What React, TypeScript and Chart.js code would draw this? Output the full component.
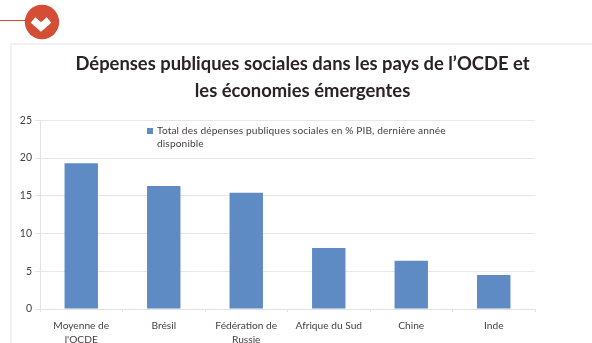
import { useEffect, useRef } from "react";
import { Chart, registerables } from "chart.js";

Chart.register(...registerables);

const categories = [
  ["Moyenne de", "l'OCDE"],
  ["Brésil"],
  ["Fédération de", "Russie"],
  ["Afrique du Sud"],
  ["Chine"],
  ["Inde"],
];
const seriesValues = [19.3, 16.3, 15.4, 8.1, 6.4, 4.5];
const seriesLabelLines = [
  "Total des dépenses publiques sociales en % PIB, dernière année",
  "disponible",
];
const titleLines = [
  "Dépenses publiques sociales dans les pays de l’OCDE et",
  "les économies émergentes",
];
const ACCENT = "#d44e35";
const BAR = "#5f8bc4";
const TEXT = "#453f41";
const FONT = "Lato";

// Page furniture behind the chart: thin panel frame and the chevron badge.
const furniture = {
  id: "furniture",
  beforeDraw(chart: Chart) {
    const { ctx } = chart;
    ctx.save();
    ctx.fillStyle = "#f1f1f1";
    ctx.fillRect(10, 43, 2, 300);
    ctx.fillRect(10, 43, 582, 2);
    ctx.strokeStyle = ACCENT;
    ctx.lineWidth = 1;
    ctx.beginPath();
    ctx.moveTo(0, 20.5);
    ctx.lineTo(27, 20.5);
    ctx.stroke();
    ctx.fillStyle = ACCENT;
    ctx.beginPath();
    ctx.arc(42, 22, 17.2, 0, Math.PI * 2);
    ctx.fill();
    ctx.strokeStyle = "#ffffff";
    ctx.lineWidth = 7;
    ctx.lineJoin = "miter";
    ctx.beginPath();
    ctx.moveTo(33, 20);
    ctx.lineTo(41, 27);
    ctx.lineTo(49, 20);
    ctx.stroke();
    ctx.restore();
  },
};

// Centres the title over the panel rather than over the canvas minus padding.
const titleOffset = {
  id: "titleOffset",
  afterLayout(chart: any) {
    chart.titleBlock.left += 35;
    chart.titleBlock.right += 35;
  },
};

// Series key placed inside the plot, with its label wrapped on two lines.
const insideKey = {
  id: "insideKey",
  afterDraw(chart: Chart) {
    const { ctx } = chart;
    ctx.save();
    ctx.fillStyle = BAR;
    ctx.fillRect(147, 128, 6, 6);
    ctx.fillStyle = TEXT;
    ctx.font = `10.2px ${FONT}`;
    ctx.letterSpacing = "0.11px";
    ctx.textBaseline = "middle";
    seriesLabelLines.forEach((line, i) => ctx.fillText(line, 157, 131 + i * 13));
    ctx.restore();
  },
};

export default function App() {
  const ref = useRef<HTMLCanvasElement>(null);

  useEffect(() => {
    const chart = new Chart(ref.current!, {
      type: "bar",
      data: {
        labels: categories,
        datasets: [
          {
            label: seriesLabelLines.join(" "),
            data: seriesValues,
            backgroundColor: BAR,
            categoryPercentage: 1,
            barPercentage: 0.405,
          },
        ],
      },
      options: {
        animation: false,
        responsive: false,
        layout: { padding: { left: 0, right: 57, top: 51, bottom: 0 } },
        plugins: {
          legend: { display: false },
          tooltip: { enabled: false },
          title: {
            display: true,
            text: titleLines,
            color: "#2b2226",
            font: { family: FONT, size: 18.4, weight: "bold", lineHeight: 1.45 },
            padding: { top: 0, bottom: 16 },
          },
        },
        scales: {
          x: {
            afterFit(axis: any) {
              axis.height = 34;
            },
            border: { color: "#e2e2e2" },
            grid: { drawOnChartArea: false, color: "#e2e2e2", tickLength: 3 },
            ticks: {
              color: TEXT,
              font: { family: FONT, size: 10.2, lineHeight: 1.35 },
              maxRotation: 0,
              autoSkip: false,
              padding: 7,
            },
          },
          y: {
            min: 0,
            max: 25,
            afterFit(axis: any) {
              axis.width = 40;
            },
            border: { color: "#e2e2e2" },
            grid: { color: "#e6e6e6", tickLength: 5 },
            ticks: {
              stepSize: 5,
              color: TEXT,
              font: { family: FONT, size: 10.5 },
              padding: 3,
            },
          },
        },
      },
      plugins: [furniture, titleOffset, insideKey],
    });
    return () => chart.destroy();
  }, []);

  return (
    <canvas
      ref={ref}
      width={592}
      height={343}
      style={{ position: "fixed", left: 0, top: 0, display: "block" }}
    />
  );
}
